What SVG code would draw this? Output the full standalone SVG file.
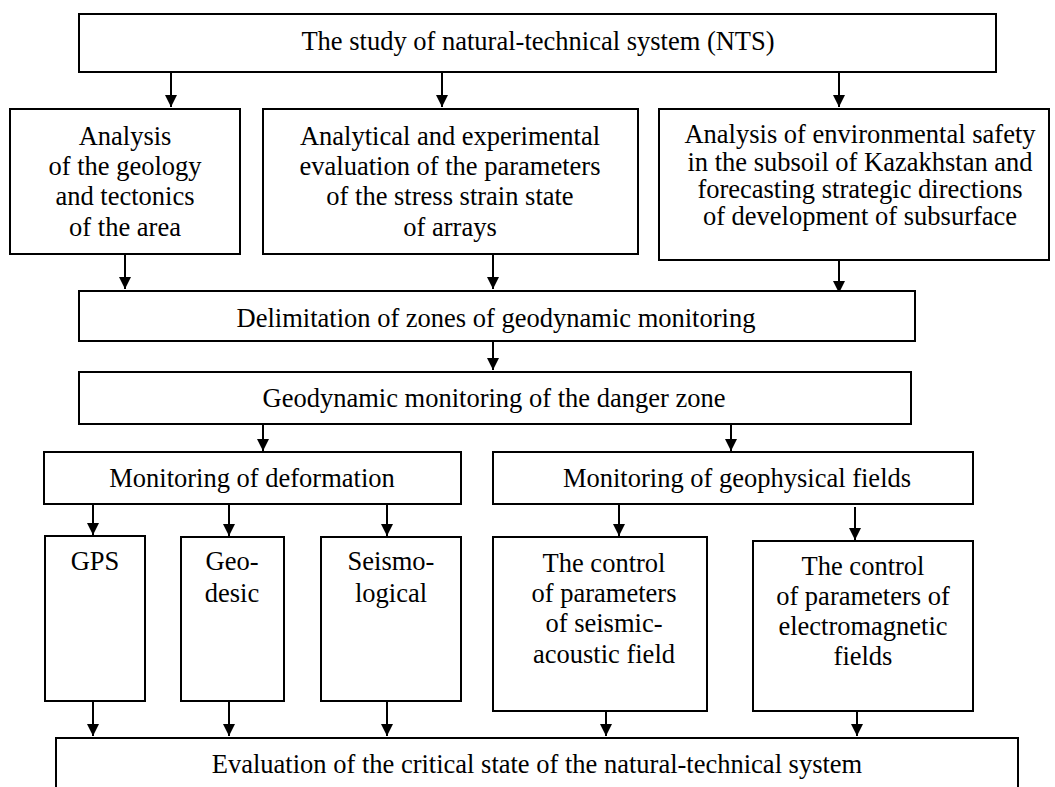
<svg xmlns="http://www.w3.org/2000/svg" width="1055" height="787" viewBox="0 0 1055 787">
<style>
rect{fill:#fff;stroke:#000;stroke-width:2}
text{font-size:26.5px;fill:#000;text-anchor:middle}
.c{stroke:#000;stroke-width:2;fill:none;marker-end:url(#ah)}
</style>
<defs>
<marker id="ah" markerUnits="userSpaceOnUse" markerWidth="12" markerHeight="12" refX="12" refY="6" orient="auto" viewBox="0 0 12 12">
<path d="M0,0 L12,6 L0,12 z" fill="#000"/>
</marker>
</defs>
<rect x="0" y="0" width="1055" height="787" style="fill:#fff;stroke:none"/>
<g id="connectors">
<path class="c" d="M171,72 V107"/>
<path class="c" d="M442,72 V107"/>
<path class="c" d="M839,72 V107"/>
<path class="c" d="M125,254 V289"/>
<path class="c" d="M493,254 V289"/>
<path class="c" d="M839,260 V293"/>
<path class="c" d="M493,341 V370"/>
<path class="c" d="M263,424 V451"/>
<path class="c" d="M731,424 V451"/>
<path class="c" d="M93,504 V535"/>
<path class="c" d="M229,504 V536"/>
<path class="c" d="M387,504 V536"/>
<path class="c" d="M619,504 V536"/>
<path class="c" d="M855,507 V540"/>
<path class="c" d="M93,701 V736"/>
<path class="c" d="M229,701 V736"/>
<path class="c" d="M387,701 V736"/>
<path class="c" d="M606,711 V736"/>
<path class="c" d="M857,711 V736"/>
</g>
<g font-family="'Liberation Serif', serif">
<g id="study">
<rect x="79" y="14" width="917" height="58"/>
<text x="538" y="50">The study of natural-technical system (NTS)</text>
</g>
<g id="geology">
<rect x="10" y="109" width="230" height="145"/>
<text x="125" y="145">Analysis</text>
<text x="125" y="175">of the geology</text>
<text x="125" y="205">and tectonics</text>
<text x="125" y="236">of the area</text>
</g>
<g id="stress">
<rect x="263" y="109" width="375" height="145"/>
<text x="450" y="145">Analytical and experimental</text>
<text x="450" y="175">evaluation of the parameters</text>
<text x="450" y="205">of the stress strain state</text>
<text x="450" y="236">of arrays</text>
</g>
<g id="safety">
<rect x="659" y="109" width="390" height="151"/>
<text x="860" y="143">Analysis of environmental safety</text>
<text x="860" y="171">in the subsoil of Kazakhstan and</text>
<text x="860" y="198">forecasting strategic directions</text>
<text x="860" y="225">of development of subsurface</text>
</g>
<g id="delimitation">
<rect x="79" y="291" width="836" height="50"/>
<text x="496" y="327">Delimitation of zones of geodynamic monitoring</text>
</g>
<g id="danger">
<rect x="79" y="372" width="832" height="52"/>
<text x="494" y="407">Geodynamic monitoring of the danger zone</text>
</g>
<g id="deformation">
<rect x="44" y="452" width="417" height="52"/>
<text x="252" y="487">Monitoring of deformation</text>
</g>
<g id="geophysical">
<rect x="493" y="452" width="480" height="52"/>
<text x="737" y="487">Monitoring of geophysical fields</text>
</g>
<g id="gps">
<rect x="45" y="536" width="100" height="165"/>
<text x="95" y="570">GPS</text>
</g>
<g id="geodesic">
<rect x="181" y="537" width="103" height="164"/>
<text x="232" y="570">Geo-</text>
<text x="232" y="602">desic</text>
</g>
<g id="seismological">
<rect x="321" y="537" width="140" height="164"/>
<text x="391" y="570">Seismo-</text>
<text x="391" y="602">logical</text>
</g>
<g id="seismic-acoustic">
<rect x="493" y="537" width="214" height="174"/>
<text x="604" y="572">The control</text>
<text x="604" y="602">of parameters</text>
<text x="604" y="632">of seismic-</text>
<text x="604" y="663">acoustic field</text>
</g>
<g id="electromagnetic">
<rect x="753" y="541" width="220" height="170"/>
<text x="863" y="575">The control</text>
<text x="863" y="605">of parameters of</text>
<text x="863" y="635">electromagnetic</text>
<text x="863" y="665">fields</text>
</g>
<g id="evaluation">
<rect x="56" y="738" width="962" height="70"/>
<text x="537" y="773">Evaluation of the critical state of the natural-technical system</text>
</g>
</g>
</svg>
